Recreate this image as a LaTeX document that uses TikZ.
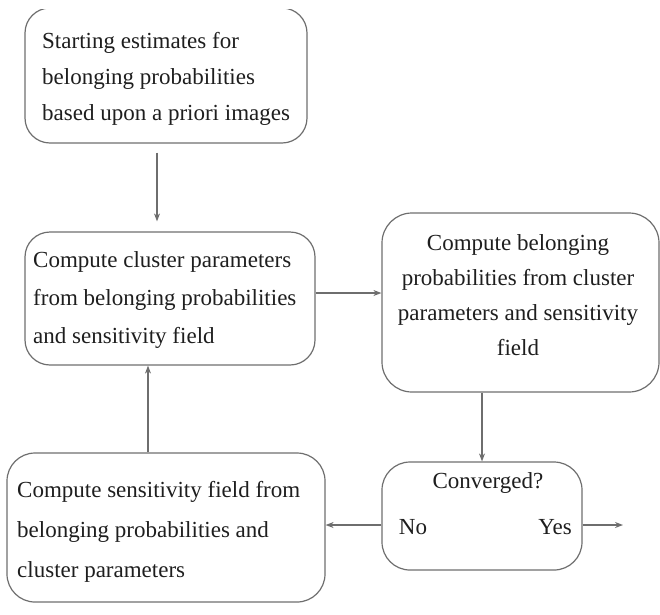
\documentclass[tikz,border=0pt]{standalone}
\usepackage{fontspec}
\setmainfont{Liberation Serif}
\usetikzlibrary{arrows.meta}
\definecolor{linegray}{RGB}{110,110,110}
\definecolor{txtgray}{RGB}{30,30,30}
\begin{document}
\begin{tikzpicture}[x=1pt,y=-1pt,
  box/.style={draw=linegray, line width=1.2pt, rectangle, inner sep=0pt, fill=none},
  lbl/.style={text=txtgray, inner sep=0pt, align=left},
  arr/.style={draw=linegray, line width=1.2pt, -{Stealth[length=8pt,width=6pt]}}]
\useasboundingbox (0,0) rectangle (660,614);
% boxes
\begin{scope}
\clip (0,9.5) rectangle (660,614);
\node[box, rounded corners=25pt, minimum width=282pt, minimum height=135pt] (b1) at (166,75.5) {};
\end{scope}
\node[box, rounded corners=25pt, minimum width=290pt, minimum height=133pt] (b2) at (170,298.5) {};
\node[box, rounded corners=30pt, minimum width=277pt, minimum height=179pt] (b3) at (520.5,302.5) {};
\node[box, rounded corners=28pt, minimum width=200pt, minimum height=108pt] (b4) at (482,516) {};
\node[box, rounded corners=28pt, minimum width=318pt, minimum height=149pt] (b5) at (166,527.5) {};
% texts
\node[lbl, anchor=west, font={\fontsize{23}{36}\selectfont}] (t1) at (42,79)
  {Starting estimates for\\belonging probabilities\\based upon a priori images};
\node[lbl, anchor=west, font={\fontsize{23}{38}\selectfont}] (t2) at (33,300)
  {Compute cluster parameters\\from belonging probabilities\\and sensitivity field};
\node[lbl, align=center, anchor=center, font={\fontsize{23}{35}\selectfont}] (t3) at (518,295.5)
  {Compute belonging\\probabilities from cluster\\parameters and sensitivity\\field};
\node[lbl, font={\fontsize{23}{36}\selectfont}] (t4) at (488,483) {Converged?};
\node[lbl, font={\fontsize{23}{36}\selectfont}] (tno) at (413,527) {No};
\node[lbl, font={\fontsize{23}{36}\selectfont}] (tyes) at (555,527) {Yes};
\node[lbl, anchor=west, font={\fontsize{23}{40}\selectfont}] (t5) at (17,532)
  {Compute sensitivity field from\\belonging probabilities and\\cluster parameters};
% connectors
\coordinate (yesend) at (623,525);
\draw[arr, shorten <=9pt, shorten >=10pt] ([xshift=-9pt]b1.south) -- ([xshift=-9pt]b1.south |- b2.north);
\draw[arr] ([yshift=5.5pt]b2.east) -- ([yshift=5.5pt]b2.east -| b3.west);
\draw[arr] (b4.north |- b3.south) -- (b4.north);
\draw[arr] (b4.west |- yesend) -- (b5.east |- yesend);
\draw[arr] (b4.east |- yesend) -- (yesend);
\draw[arr] ([xshift=-18pt]b5.north) -- ([xshift=-18pt]b5.north |- b2.south);
\end{tikzpicture}
\end{document}
